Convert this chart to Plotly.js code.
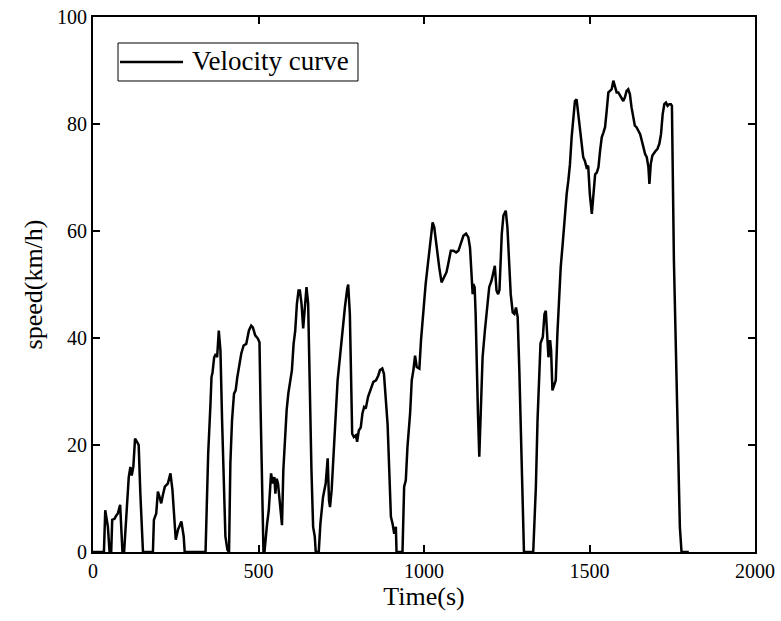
<!DOCTYPE html>
<html>
<head>
<meta charset="utf-8">
<script src="https://cdn.plot.ly/plotly-3.0.1.min.js"></script>
<style>html,body{margin:0;padding:0;background:#fff;}#chart{width:781px;height:621px;}</style>
</head>
<body>
<div id="chart"></div>
<script>
// Time (s)
const timeS = [
  0,33,37,42,45,50,55,58,65,70,75,82,85,89,94,100,104,108,113,117,122,127,132,138,143,151,
  181,184,191,196,201,206,211,217,226,234,240,245,250,257,267,274,277,
  340,343,348,355,358,361,366,371,375,380,385,390,395,400,406,411,
  415,420,426,431,436,443,448,455,463,471,478,483,490,498,503,506,510,515,
  518,520,526,531,535,538,543,548,551,555,559,563,568,571,575,580,585,590,595,601,606,611,616,621,
  625,630,635,640,645,650,655,660,665,670,673,682,687,695,703,709,713,716,721,726,733,739,746,754,761,768,771,
  776,779,783,788,794,798,803,809,814,819,824,831,838,847,855,862,867,874,879,885,890,895,900,905,910,915,917,
  935,940,945,950,958,963,968,973,978,986,991,998,1005,1013,1020,1026,1031,1038,1046,1053,1058,1063,1068,1073,
  1081,1089,1097,1104,1111,1119,1127,1134,1139,1144,1147,1149,1153,1156,1159,1163,1167,1171,1177,1184,1191,1197,
  1204,1209,1214,1219,1224,1228,1235,1240,1247,1252,1257,1262,1268,1273,1278,1283,1288,1293,1298,1302,
  1330,1333,1338,1343,1348,1352,1359,1364,1368,1371,1376,1381,1384,1388,1393,1398,1403,1409,1413,1419,1426,
  1431,1436,1441,1446,1451,1456,1461,1466,1471,1476,1481,1486,1491,1496,1501,1507,1512,1517,1522,1527,1532,
  1537,1542,1547,1552,1557,1562,1567,1572,1577,1582,1587,1592,1597,1602,1607,1612,1617,1622,1627,1632,1637,
  1642,1648,1653,1658,1663,1668,1673,1678,1681,1685,1690,1695,1700,1705,1711,1716,1721,1726,1731,1736,1741,
  1746,1749,1755,1763,1773,1778,1800
];
// Speed (km/h)
const speedKmh = [
  0,0,7.8,6,4.7,0,0,6,6.2,6.8,7.2,8.8,5,0,0,6,10,14,15.9,14.3,16,21.2,20.7,20,11,0,
  0,6,7.2,11.3,10.3,9.1,10.6,12.2,12.8,14.7,11.6,6.7,2.3,4.2,5.7,2.9,0,
  0,9.1,18.4,27.8,32.7,33.5,36.4,37,36.4,41.4,37.7,24.6,15.3,2.9,0.4,0,
  16.6,24.6,29.6,30.2,32.7,35.2,37.1,38.6,38.9,41.4,42.3,42,40.5,39.9,39.2,27.8,12.2,0,
  0,1.5,5.3,7.8,12.2,14.7,12.8,14,10.9,13.7,12.8,9.7,7.2,5,15.3,21.5,26.5,29.6,31.5,34,38.9,41.4,46.4,48.9,
  48.9,46.4,41.8,46.4,49.5,46.4,28.4,15.3,4.7,2.9,0,0,5.3,10.3,12.8,17.5,9.7,8.4,11.6,17.8,25.9,32.1,36.4,42,45.7,49.2,50,
  44.5,33.3,22.1,21.5,21.8,20.6,22.7,23.3,25.9,27.1,26.8,29,30.2,31.8,32.1,33,34,34.3,33.3,29,23.9,15.3,6.6,5.3,3.4,4.7,0,
  0,12.2,13.4,19.6,25.9,32.1,34,36.7,34.6,34.3,39.6,45.7,50.1,54.5,58.8,61.6,60.7,56.9,53.2,50.4,51,51.7,52.3,53.8,
  56.3,56.3,56,56.3,57.6,59.1,59.5,58.8,56.9,51.9,48.2,50.1,49.5,44.5,34.6,25.9,17.8,25.9,36.4,41.4,45.7,49.5,
  50.7,51.9,53.5,48.9,48.2,49,59.5,62.9,63.8,60.7,54.5,48.2,44.8,44.5,45.7,43.9,34,20.2,7.8,0,
  0,4.7,12.2,24.6,32.7,39,40.2,44.5,45.1,42,36.4,39.6,37.7,30.2,31.2,32.1,40.8,48.2,53.2,57.6,63.8,
  66.9,69.4,72.5,77.5,81.8,84.3,84.6,81.8,79.4,76.9,73.8,73.1,71.9,72.2,66.9,63.2,67.5,70.6,70.9,71.9,75,
  77.5,78.4,79.4,82.5,85.9,86.2,86.5,88.1,86.8,85.9,85.9,85.3,84.6,84.3,85,86.2,86.5,85.6,83.1,81.2,79.7,
  79.4,78.7,78.1,76.9,75.3,74.4,73.8,71.9,68.8,72.5,74.1,74.7,75,75.3,76.3,78.1,81.8,83.7,84,83.4,83.7,
  83.7,83.4,54.5,29.6,4.7,0,0
];
const seriesName = "Velocity curve";
const xTicks = [0, 500, 1000, 1500, 2000];
const yTicks = [0, 20, 40, 60, 80, 100];

const serif = "Liberation Serif, Times New Roman, serif";

const trace = {
  x: timeS, y: speedKmh, type: 'scatter', mode: 'lines', name: seriesName,
  line: {color: '#000', width: 2.5}, showlegend: false
};

const axisCommon = {
  showgrid: false, zeroline: false, showline: true, linecolor: '#000', linewidth: 2,
  mirror: 'ticks', ticks: 'inside', ticklen: 7, tickwidth: 2, tickcolor: '#000',
  tickfont: {family: serif, size: 20, color: '#000'}
};

// legend box drawn in paper coordinates
const layout = {
  width: 781, height: 621,
  margin: {l: 93, r: 26, t: 17, b: 69},
  paper_bgcolor: '#fff', plot_bgcolor: '#fff',
  font: {family: serif, color: '#000'},
  showlegend: false,
  shapes: [
    {type: 'rect', xref: 'paper', yref: 'paper', x0: 0.0378, x1: 0.4003, y0: 0.8804, y1: 0.9514,
     line: {color: '#000', width: 1}, fillcolor: 'rgba(0,0,0,0)'},
    {type: 'line', xref: 'paper', yref: 'paper', x0: 0.0408, x1: 0.136, y0: 0.916, y1: 0.916,
     line: {color: '#000', width: 2.5}}
  ],
  annotations: [
    {xref: 'paper', yref: 'paper', x: 0.1465, y: 0.917, xanchor: 'left', yanchor: 'middle',
     text: seriesName, showarrow: false, font: {family: serif, size: 27, color: '#000'}}
  ],
  xaxis: Object.assign({}, axisCommon, {
    range: [0, 2000], tickvals: xTicks, ticktext: xTicks.map(String),
    title: {text: 'Time(s)', font: {family: serif, size: 26, color: '#000'}, standoff: 5}
  }),
  yaxis: Object.assign({}, axisCommon, {
    range: [0, 100], tickvals: yTicks, ticktext: yTicks.map(String),
    title: {text: 'speed(km/h)', font: {family: serif, size: 26, color: '#000'}, standoff: 7}
  })
};

Plotly.newPlot('chart', [trace], layout, {displayModeBar: false, staticPlot: true});
</script>
</body>
</html>
